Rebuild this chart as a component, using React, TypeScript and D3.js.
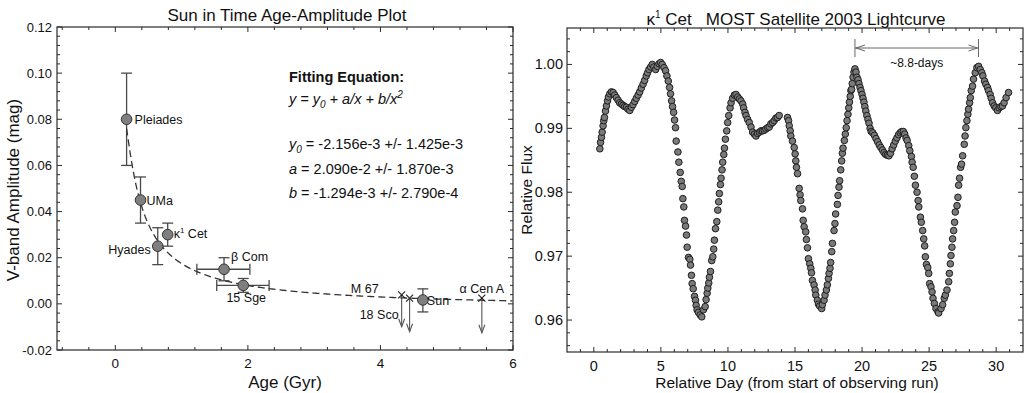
import React from "react";
import * as d3 from "d3";

const W = 1026;
const H = 393;
const FONT = "'Liberation Sans', Arial, Helvetica, sans-serif";

// ---------- Left panel: age-amplitude ----------
const starNames = ["Pleiades", "UMa", "Hyades", "κ1 Cet", "β Com", "15 Sge", "Sun"];
const starAge = [0.17, 0.38, 0.64, 0.79, 1.64, 1.93, 4.64];
const starAmp = [0.08, 0.045, 0.025, 0.03, 0.015, 0.008, 0.0017];
const ampLow = [0.06, 0.035, 0.017, 0.025, 0.01, 0.005, -0.0035];
const ampHigh = [0.1, 0.055, 0.033, 0.035, 0.02, 0.011, 0.0065];
const ageLow = [null, null, null, null, 1.23, 1.53, null];
const ageHigh = [null, null, null, null, 2.03, 2.32, null];

const limitNames = ["M 67", "18 Sco", "α Cen A"];
const limitAge = [4.32, 4.44, 5.53];
const limitAmp = [0.0039, 0.0025, 0.0025];
const limitArrowTo = [-0.0099, -0.0121, -0.0125];

// fitting equation coefficients (as printed in the chart)
const fitY0 = -2.156e-3;
const fitA = 2.09e-2;
const fitB = -1.294e-3;
const fitStart = 0.17;
const fitEnd = 6.0;

const leftXTicks = [0, 2, 4, 6];
const leftYTicks = [-0.02, 0, 0.02, 0.04, 0.06, 0.08, 0.1, 0.12];

// ---------- Right panel: MOST lightcurve ----------
const lcDay = [
  0.45, 0.5, 0.57, 0.62, 0.69, 0.74, 0.79, 0.87, 0.94, 1.02, 1.09, 1.19, 1.31, 1.44, 1.56, 1.68, 1.81, 1.93,
  2.06, 2.18, 2.3, 2.43, 2.55, 2.68, 2.8, 2.92, 3.05, 3.17, 3.3, 3.42, 3.54, 3.67, 3.79, 3.91, 4.01, 4.11,
  4.24, 4.36, 4.48, 4.61, 4.73, 4.86, 4.98, 5.1, 5.23, 5.35, 5.45, 5.55, 5.65, 5.72, 5.8, 5.87, 5.95, 6.02,
  6.09, 6.14, 6.27, 6.34, 6.44, 6.52, 6.59, 6.64, 6.71, 6.76, 6.84, 6.91, 6.96, 7.06, 7.16, 7.21, 7.28, 7.33,
  7.41, 7.51, 7.58, 7.63, 7.7, 7.8, 7.93, 8.05, 8.17, 8.3, 8.37, 8.45, 8.5, 8.57, 8.62, 8.7, 8.79, 8.87, 8.94,
  8.99, 9.07, 9.17, 9.24, 9.31, 9.36, 9.44, 9.49, 9.56, 9.61, 9.69, 9.74,
  9.81, 9.91, 9.98, 10.06, 10.16, 10.23, 10.35, 10.48, 10.6, 10.73, 10.85, 10.97, 11.1, 11.17, 11.27, 11.35,
  11.47, 11.59, 11.72, 11.84, 11.97, 12.09, 12.21, 12.34, 12.46, 12.58, 12.71, 12.83, 12.96, 13.08, 13.2,
  13.33, 13.45, 13.58, 13.7, 13.82,
  14.44, 14.52, 14.57, 14.64, 14.69, 14.81, 14.94, 15.01, 15.06, 15.11, 15.19, 15.31, 15.38, 15.43, 15.56,
  15.61, 15.68, 15.8, 15.85, 15.93, 16.0, 16.1, 16.18, 16.23, 16.3, 16.42, 16.5, 16.55, 16.67, 16.75, 16.84,
  16.99, 17.04, 17.17, 17.24, 17.34, 17.41, 17.49, 17.54, 17.61, 17.66, 17.74, 17.79, 17.91, 17.98, 18.03,
  18.16, 18.21, 18.28, 18.33, 18.41, 18.48, 18.53, 18.58, 18.68, 18.75, 18.82, 18.88, 18.95, 19.01, 19.06,
  19.12, 19.17, 19.22, 19.27, 19.33, 19.4, 19.47, 19.55, 19.62, 19.7, 19.77, 19.85, 19.92, 20.0, 20.07, 20.14,
  20.21, 20.28, 20.36, 20.44, 20.52, 20.6, 20.68, 20.8, 20.92, 21.04, 21.16, 21.28, 21.4, 21.52, 21.64, 21.76,
  21.88, 22.0, 22.12, 22.24, 22.36, 22.48, 22.6, 22.72, 22.84, 22.96, 23.08, 23.18, 23.28, 23.36, 23.48, 23.56,
  23.68, 23.73, 23.81, 23.9, 23.98, 24.1, 24.18, 24.23, 24.35, 24.42, 24.52, 24.6, 24.67, 24.72, 24.8, 24.9,
  24.97, 25.04, 25.14, 25.22, 25.29, 25.39, 25.51, 25.66, 25.71, 25.89, 26.01, 26.13, 26.21, 26.33, 26.46,
  26.51, 26.58, 26.63, 26.7, 26.75, 26.83, 26.9, 26.95, 27.08, 27.15, 27.2, 27.27, 27.35, 27.42, 27.5, 27.62,
  27.68, 27.74, 27.82, 27.89, 27.94, 28.02, 28.07, 28.14, 28.24, 28.31, 28.44, 28.56, 28.69, 28.81, 28.93,
  29.01, 29.13, 29.23, 29.35, 29.43, 29.55, 29.63, 29.73, 29.85, 29.97, 30.1, 30.22, 30.35, 30.47, 30.59,
  30.74, 30.92,
];
const lcFlux = [
  0.9868, 0.9878, 0.9886, 0.9894, 0.9904, 0.9912, 0.9917, 0.9927, 0.9935, 0.9943, 0.9949, 0.9954, 0.9957,
  0.9956, 0.9952, 0.9948, 0.9944, 0.994, 0.9938, 0.9936, 0.9934, 0.9933, 0.993, 0.9928, 0.9933, 0.9937,
  0.9942, 0.9947, 0.9952, 0.9957, 0.9963, 0.9969, 0.9975, 0.9982, 0.9987, 0.9992, 0.9996, 1.0, 0.9996,
  0.9992, 0.9997, 1.0001, 1.0003, 1.0, 0.9995, 0.999, 0.9982, 0.9974, 0.9964, 0.9954, 0.9943, 0.9934,
  0.9925, 0.9913, 0.9901, 0.988, 0.9863, 0.9847, 0.9831, 0.9817, 0.9809, 0.979, 0.9777, 0.9756, 0.9747,
  0.9733, 0.9714, 0.9698, 0.9695, 0.9686, 0.967, 0.9657, 0.9649, 0.9637, 0.9631, 0.9623, 0.9616, 0.9612,
  0.9608, 0.9605, 0.9616, 0.9621, 0.9632, 0.9642, 0.965, 0.9658, 0.9667, 0.9676, 0.9693, 0.9699, 0.9711,
  0.9725, 0.9743, 0.9754, 0.9772, 0.9785, 0.9798, 0.9812, 0.9822, 0.9835, 0.9847, 0.9859, 0.9869,
  0.9883, 0.9896, 0.9909, 0.992, 0.9932, 0.994, 0.9947, 0.9952, 0.9953, 0.9949, 0.9946, 0.9943, 0.9938,
  0.9932, 0.9925, 0.992, 0.9914, 0.9909, 0.9902, 0.9894, 0.9891, 0.9888, 0.9892, 0.9894, 0.9896, 0.9896,
  0.9897, 0.9899, 0.9901, 0.9902, 0.9907, 0.9909, 0.9912, 0.9916, 0.9917, 0.992,
  0.9917, 0.9912, 0.9904, 0.9896, 0.9888, 0.988, 0.987, 0.986, 0.9849, 0.9839, 0.9829, 0.9806, 0.9796,
  0.9787, 0.9774, 0.9756, 0.9746, 0.9738, 0.9726, 0.9713, 0.9696, 0.9688, 0.9681, 0.9674, 0.9662, 0.9655,
  0.9647, 0.9639, 0.9631, 0.9625, 0.9622, 0.9618, 0.9624, 0.9631, 0.9639, 0.9647, 0.9655, 0.9665, 0.9673,
  0.9681, 0.969, 0.9707, 0.972, 0.974, 0.9751, 0.9766, 0.9781, 0.9795, 0.9808, 0.9818, 0.9835, 0.9849,
  0.9861, 0.9869, 0.9881, 0.9891, 0.9901, 0.9912, 0.9922, 0.9932, 0.9941, 0.995, 0.9959, 0.9961, 0.997,
  0.998, 0.9988, 0.9993, 0.9988, 0.998, 0.9976, 0.997, 0.9964, 0.9959, 0.9953, 0.9947, 0.9941, 0.9934,
  0.9927, 0.992, 0.9914, 0.9908, 0.99, 0.9895, 0.9893, 0.9889, 0.9884, 0.9879, 0.9874, 0.987, 0.9866,
  0.9862, 0.9859, 0.9858, 0.9857, 0.9861, 0.9868, 0.9874, 0.988, 0.9885, 0.989, 0.9893, 0.9895, 0.9895,
  0.9891, 0.9885, 0.9881, 0.9873, 0.9865, 0.9856, 0.9847, 0.9839, 0.9825, 0.9811, 0.98, 0.9787, 0.9777,
  0.9761, 0.9753, 0.974, 0.9727, 0.9716, 0.9699, 0.9687, 0.9682, 0.9673, 0.9657, 0.9652, 0.9644, 0.9634,
  0.9626, 0.9618, 0.9613, 0.9611, 0.9618, 0.9624, 0.9634, 0.9639, 0.9647, 0.966, 0.9673, 0.9688, 0.9701,
  0.9714, 0.9727, 0.974, 0.9753, 0.9769, 0.9779, 0.9792, 0.9811, 0.9822, 0.9839, 0.9844, 0.9857, 0.9875,
  0.9888, 0.9901, 0.9912, 0.9922, 0.993, 0.994, 0.9948, 0.9959, 0.9966, 0.9977, 0.9987, 0.9995, 0.9997,
  0.9992, 0.9987, 0.9982, 0.9974, 0.9969, 0.9964, 0.9959, 0.9953, 0.9947, 0.994, 0.9935, 0.9932, 0.9928,
  0.9932, 0.9934, 0.9935, 0.994, 0.9948, 0.9956,
];
const periodFrom = 19.47;
const periodTo = 28.68;
const periodLabel = "~8.8-days";

const rightXTicks = [0, 5, 10, 15, 20, 25, 30];
const rightYTicks = [0.96, 0.97, 0.98, 0.99, 1.0];

// ---------- layout ----------
const L = { left: 57, right: 513, top: 27, bottom: 350 };
const R = { left: 567, right: 1023, top: 28, bottom: 352 };

const fmt2 = (v: number) => d3.format(".2f")(v).replace("−", "-");

type Tick = { v: number; major: boolean };

function Frame({ box, xs, ys, xTicks, yTicks }: any) {
  const maj = 5;
  const mn = 3;
  const stroke = "#2b2b2b";
  return (
    <g>
      <rect x={box.left} y={box.top} width={box.right - box.left} height={box.bottom - box.top}
        fill="none" stroke={stroke} strokeWidth={1.2} />
      {xTicks.map((t: Tick, i: number) => {
        const x = xs(t.v);
        const len = t.major ? maj : mn;
        return (
          <g key={"x" + i}>
            <line x1={x} x2={x} y1={box.bottom} y2={box.bottom - len} stroke={stroke} strokeWidth={1} />
            <line x1={x} x2={x} y1={box.top} y2={box.top + len} stroke={stroke} strokeWidth={1} />
          </g>
        );
      })}
      {yTicks.map((t: Tick, i: number) => {
        const y = ys(t.v);
        const len = t.major ? maj : mn;
        return (
          <g key={"y" + i}>
            <line x1={box.left} x2={box.left + len} y1={y} y2={y} stroke={stroke} strokeWidth={1} />
            <line x1={box.right} x2={box.right - len} y1={y} y2={y} stroke={stroke} strokeWidth={1} />
          </g>
        );
      })}
    </g>
  );
}

function minorTicks(from: number, to: number, step: number, every: number): Tick[] {
  const out: Tick[] = [];
  for (let i = from; i <= to; i++) out.push({ v: i * step, major: i % every === 0 });
  return out;
}

export default function App() {
  const lx = d3.scaleLinear().domain([-0.88, 6]).range([L.left, L.right]);
  const ly = d3.scaleLinear().domain([-0.02, 0.12]).range([L.bottom, L.top]);
  const rx = d3.scaleLinear().domain([-2, 32]).range([R.left, R.right]);
  const ry = d3.scaleLinear().domain([0.955, 1.0057]).range([R.bottom, R.top]);

  const fitXs = d3.range(fitStart, fitEnd + 1e-9, 0.02);
  const fitLine = d3
    .line<number>()
    .x((d) => lx(d))
    .y((d) => ly(fitY0 + fitA / d + fitB / (d * d)))(fitXs) as string;

  const errColor = "#4a4a4a";
  const cap = 5.5;

  // label offsets (px) relative to marker
  const starLabelPos: [number, number, string][] = [
    [8, 0, "start"],
    [6, 0, "start"],
    [-7, 3, "end"],
    [6, -1, "start"],
    [7, -13, "start"],
    [3, 12, "middle"],
    [4, 1, "start"],
  ];
  const limitLabelPos: [number, number, string][] = [
    [-23, -6, "end"],
    [-11, 16, "end"],
    [0, -10, "middle"],
  ];

  const renderName = (n: string) => {
    if (n === "κ1 Cet")
      return (
        <>
          κ<tspan fontSize="8" dy="-5">1</tspan>
          <tspan dy="5"> Cet</tspan>
        </>
      );
    return n;
  };

  return (
    <svg width={W} height={H} style={{ position: "absolute", left: 0, top: 0, background: "#fff" }}
      fontFamily={FONT}>
      <rect x={0} y={0} width={W} height={H} fill="#fff" />

      {/* ================= LEFT PANEL ================= */}
      <text x={287} y={21} textAnchor="middle" fontSize={17} fill="#111">Sun in Time Age-Amplitude Plot</text>
      <Frame box={L} xs={lx} ys={ly} xTicks={minorTicks(-2, 15, 0.4, 5)} yTicks={minorTicks(-5, 30, 0.004, 5)} />
      {leftYTicks.map((v) => (
        <text key={v} x={L.left - 5} y={ly(v) + 4.5} textAnchor="end" fontSize={13} fill="#111">{fmt2(v)}</text>
      ))}
      {leftXTicks.map((v) => (
        <text key={v} x={lx(v)} y={368} textAnchor="middle" fontSize={13.5} fill="#111">{v}</text>
      ))}
      <text x={285} y={388} textAnchor="middle" fontSize={17} fill="#111">Age (Gyr)</text>
      <text transform={`translate(19,190) rotate(-90)`} textAnchor="middle" fontSize={17} fill="#111">
        V-band Amplitude (mag)
      </text>

      {/* fit equation */}
      <g fontSize={14.5} fill="#111">
        <text x={289} y={82} fontWeight="bold">Fitting Equation:</text>
        <text x={289} y={104} fontStyle="italic">
          y = y<tspan fontSize="10" dy="4">0</tspan>
          <tspan dy="-4"> + a/x + b/x</tspan>
          <tspan fontSize="10" dy="-6">2</tspan>
        </text>
        <text x={289} y={149}>
          <tspan fontStyle="italic">y</tspan>
          <tspan fontStyle="italic" fontSize="10" dy="4">0</tspan>
          <tspan dy="-4"> = -2.156e-3 +/- 1.425e-3</tspan>
        </text>
        <text x={289} y={174}>
          <tspan fontStyle="italic">a</tspan> = 2.090e-2 +/- 1.870e-3
        </text>
        <text x={289} y={198}>
          <tspan fontStyle="italic">b</tspan> = -1.294e-3 +/- 2.790e-4
        </text>
      </g>

      {/* error bars */}
      {starAge.map((a, i) => (
        <g key={"e" + i} stroke={errColor} strokeWidth={1.3}>
          <line x1={lx(a)} x2={lx(a)} y1={ly(ampLow[i])} y2={ly(ampHigh[i])} />
          <line x1={lx(a) - cap} x2={lx(a) + cap} y1={ly(ampLow[i])} y2={ly(ampLow[i])} />
          <line x1={lx(a) - cap} x2={lx(a) + cap} y1={ly(ampHigh[i])} y2={ly(ampHigh[i])} />
          {ageLow[i] != null && (
            <>
              <line x1={lx(ageLow[i] as number)} x2={lx(ageHigh[i] as number)} y1={ly(starAmp[i])} y2={ly(starAmp[i])} />
              <line x1={lx(ageLow[i] as number)} x2={lx(ageLow[i] as number)} y1={ly(starAmp[i]) - cap} y2={ly(starAmp[i]) + cap} />
              <line x1={lx(ageHigh[i] as number)} x2={lx(ageHigh[i] as number)} y1={ly(starAmp[i]) - cap} y2={ly(starAmp[i]) + cap} />
            </>
          )}
        </g>
      ))}

      {/* upper limits */}
      {limitAge.map((a, i) => {
        const x = lx(a);
        const y0 = ly(limitAmp[i]);
        const y1 = ly(limitArrowTo[i]);
        return (
          <g key={"l" + i}>
            <line x1={x} x2={x} y1={y0} y2={y1} stroke="#555" strokeWidth={1.1} />
            <polyline points={`${x - 3},${y1 - 8} ${x},${y1} ${x + 3},${y1 - 8}`} fill="none" stroke="#555" strokeWidth={1.1} />
          </g>
        );
      })}

      {/* fit curve */}
      <path d={fitLine} fill="none" stroke="#333" strokeWidth={1.3} strokeDasharray="7,4" />

      {/* crosses */}
      {limitAge.map((a, i) => {
        const x = lx(a);
        const y = ly(limitAmp[i]);
        return (
          <g key={"c" + i} stroke="#222" strokeWidth={1.1}>
            <line x1={x - 3.5} x2={x + 3.5} y1={y - 3.5} y2={y + 3.5} />
            <line x1={x - 3.5} x2={x + 3.5} y1={y + 3.5} y2={y - 3.5} />
          </g>
        );
      })}

      {/* star markers */}
      {starAge.map((a, i) => (
        <circle key={"m" + i} cx={lx(a)} cy={ly(starAmp[i])} r={5.3} fill="#7f7f7f" stroke="#333" strokeWidth={1} />
      ))}

      {/* labels */}
      <g fontSize={12.5} fill="#111">
        {starNames.map((n, i) => (
          <text key={"t" + i} x={lx(starAge[i]) + starLabelPos[i][0]} y={ly(starAmp[i]) + starLabelPos[i][1] + 4.5}
            textAnchor={starLabelPos[i][2] as any}>
            {renderName(n)}
          </text>
        ))}
        {limitNames.map((n, i) => (
          <text key={"u" + i} x={lx(limitAge[i]) + limitLabelPos[i][0]} y={ly(limitAmp[i]) + limitLabelPos[i][1] + 4.5}
            textAnchor={limitLabelPos[i][2] as any}>
            {n}
          </text>
        ))}
      </g>

      {/* ================= RIGHT PANEL ================= */}
      <text x={796} y={25} textAnchor="middle" fontSize={17} fill="#111" style={{ whiteSpace: "pre" }}>
        κ<tspan fontSize="10" dy="-7">1</tspan>
        <tspan dy="7">{" Cet   MOST Satellite 2003 Lightcurve"}</tspan>
      </text>
      <Frame box={R} xs={rx} ys={ry} xTicks={minorTicks(-1, 31, 1, 5)} yTicks={minorTicks(478, 502, 0.002, 5)} />
      {rightYTicks.map((v) => (
        <text key={v} x={R.left - 4} y={ry(v) + 5} textAnchor="end" fontSize={14.5} fill="#111">{fmt2(v)}</text>
      ))}
      {rightXTicks.map((v) => (
        <text key={v} x={rx(v)} y={371} textAnchor="middle" fontSize={14.5} fill="#111">{v}</text>
      ))}
      <text x={797} y={388} textAnchor="middle" fontSize={15.5} fill="#111">
        Relative Day (from start of observing run)
      </text>
      <text transform={`translate(532,190) rotate(-90)`} textAnchor="middle" fontSize={15.5} fill="#111">
        Relative Flux
      </text>

      {/* period annotation */}
      <g stroke="#666" strokeWidth={1} fill="none">
        <line x1={rx(periodFrom)} x2={rx(periodFrom)} y1={39} y2={57} />
        <line x1={rx(periodTo)} x2={rx(periodTo)} y1={39} y2={57} />
        <line x1={rx(periodFrom)} x2={rx(periodTo)} y1={48} y2={48} />
        <polyline points={`${rx(periodFrom) + 10},${45} ${rx(periodFrom) + 1},${48} ${rx(periodFrom) + 10},${51}`} />
        <polyline points={`${rx(periodTo) - 10},${45} ${rx(periodTo) - 1},${48} ${rx(periodTo) - 10},${51}`} />
      </g>
      <text x={(rx(periodFrom) + rx(periodTo)) / 2} y={67} textAnchor="middle" fontSize={12} fill="#111">
        {periodLabel}
      </text>

      {/* lightcurve points */}
      {lcDay.map((d, i) => (
        <circle key={"p" + i} cx={rx(d)} cy={ry(lcFlux[i])} r={3.3} fill="#7a7a7a" stroke="#1e1e1e" strokeWidth={1} />
      ))}
    </svg>
  );
}
